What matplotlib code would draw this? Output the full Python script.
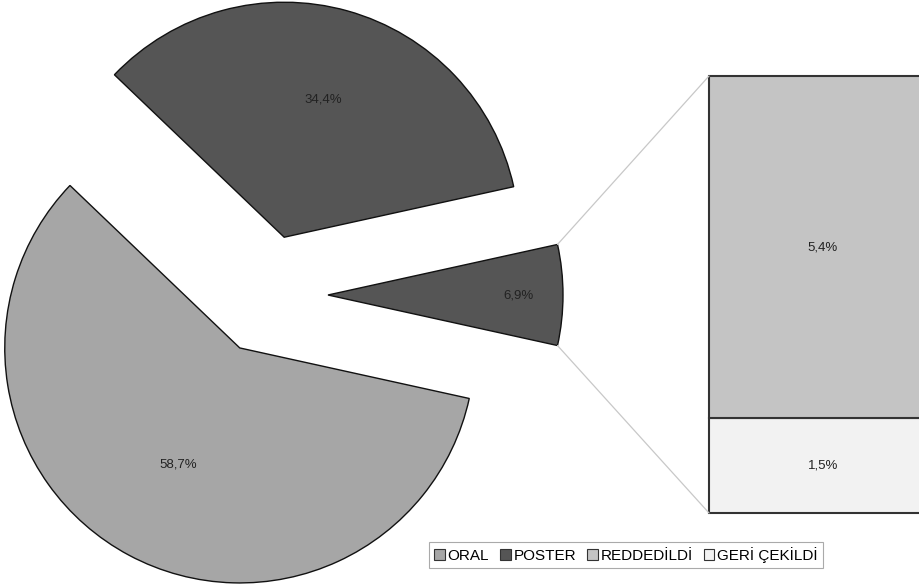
import matplotlib
matplotlib.use("Agg")
import matplotlib.pyplot as plt
import numpy as np
from matplotlib.patches import Patch, ConnectionPatch

plt.rcParams['font.family'] = ['Liberation Sans', 'DejaVu Sans']

# Data
pie_labels = ["ORAL", "POSTER", "DİĞER"]
pie_values = [58.7, 34.4, 6.9]
bar_labels = ["REDDEDİLDİ", "GERİ ÇEKİLDİ"]
bar_values = [5.4, 1.5]
legend_labels = ["ORAL", "POSTER", "REDDEDİLDİ", "GERİ ÇEKİLDİ"]

pie_colors = ["#a6a6a6", "#555555", "#555555"]
bar_colors = ["#c4c4c4", "#f2f2f2"]
legend_colors = ["#a6a6a6", "#555555", "#c4c4c4", "#f2f2f2"]

W, H = 919, 588
fig = plt.figure(figsize=(W / 100, H / 100), dpi=100)
ax = fig.add_axes([0, 0, 1, 1])

cx, cy, R = 268, 293, 235
other_span = pie_values[2] * 3.6
start = -other_span / 2
# counterclockwise order: other, poster, oral
order = [2, 1, 0]
vals = [pie_values[i] for i in order]
cols = [pie_colors[i] for i in order]
wedges, _ = ax.pie(vals, colors=cols, startangle=start, counterclock=True,
                   radius=R, center=(cx, cy), explode=[60] * 3,
                   wedgeprops=dict(edgecolor="#111111", linewidth=1.0),
                   frame=True)
ax.set_xlim(0, W)
ax.set_ylim(0, H)
ax.set_aspect('equal')
ax.axis('off')

label_frac = {0: 0.56, 1: 0.61, 2: 0.81}
for w, idx, v in zip(wedges, order, vals):
    mid = np.deg2rad((w.theta1 + w.theta2) / 2)
    ccx, ccy = w.center
    f = label_frac[idx]
    ax.text(ccx + f * R * np.cos(mid), ccy + f * R * np.sin(mid),
            f"{v:.1f}%".replace(".", ","), ha='center', va='center',
            fontsize=9.5, color="#222222")

# Bar of pie
bx0, bx1, by0, by1 = 709, 937, 75, 512
bax = fig.add_axes([bx0 / W, by0 / H, (bx1 - bx0) / W, (by1 - by0) / H])
total = sum(bar_values)
bottom = 0
for lab, v, c in reversed(list(zip(bar_labels, bar_values, bar_colors))):
    bax.bar(0.5, v, width=1.0, bottom=bottom, color=c, edgecolor="#333333",
            linewidth=1.5)
    bax.text(0.5, bottom + v / 2, f"{v:.1f}%".replace(".", ","), ha='center',
             va='center', fontsize=9.5, color="#222222")
    bottom += v
bax.set_xlim(0, 1)
bax.set_ylim(0, total)
bax.axis('off')
for p in bax.patches:
    p.set_clip_on(False)

# Connector lines
ow = wedges[0]
ocx, ocy = ow.center
for ang, yb in [(ow.theta2, 1), (ow.theta1, 0)]:
    a = np.deg2rad(ang)
    con = ConnectionPatch(xyA=(ocx + R * np.cos(a), ocy + R * np.sin(a)), coordsA=ax.transData,
                          xyB=(0, yb), coordsB=bax.transAxes,
                          color="#c8c8c8", linewidth=0.9)
    fig.add_artist(con)

handles = [Patch(facecolor=c, edgecolor="#333333", linewidth=0.8) for c in legend_colors]
leg = fig.legend(handles, legend_labels, loc='center', ncol=4,
                 bbox_to_anchor=(626 / W, 1 - 555 / H), fontsize=11,
                 handlelength=0.7, handleheight=0.7, handletextpad=0.2,
                 columnspacing=0.7, borderpad=0.3, fancybox=False,
                 edgecolor="#aaaaaa", framealpha=1)
leg.get_frame().set_linewidth(0.8)

fig.savefig("out.png", dpi=100)
